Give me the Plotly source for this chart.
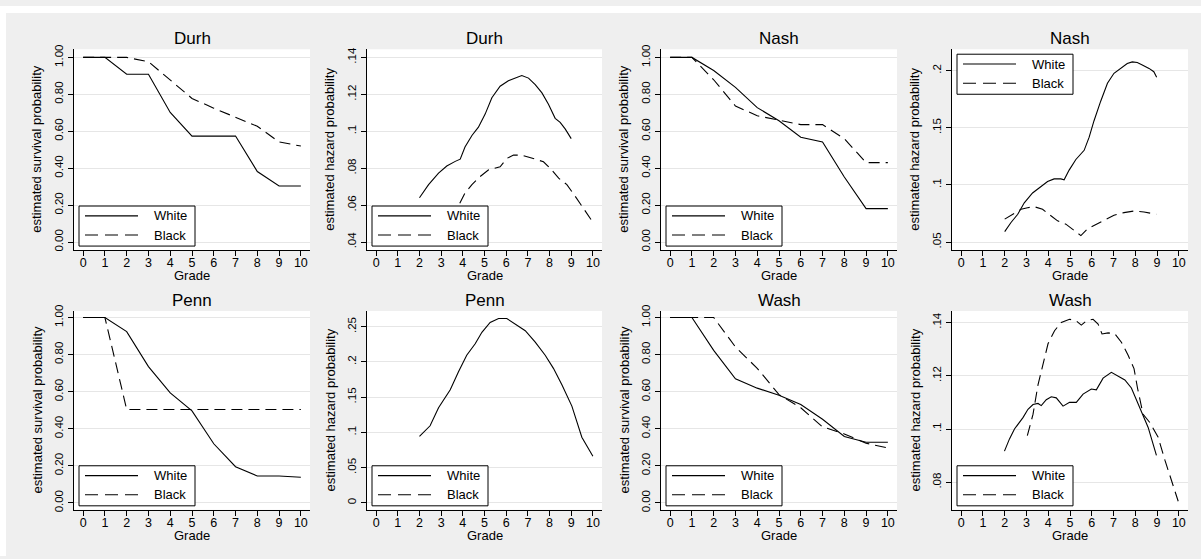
import plotly.graph_objects as go

W, H = 1201, 559
FONT = "Liberation Sans, Arial, sans-serif"

# ---------------- data ----------------
grades = list(range(11))

durh_surv_white = [1.0, 1.0, 0.909, 0.909, 0.702, 0.574, 0.574, 0.574, 0.382, 0.304, 0.304]
durh_surv_black = [1.0, 1.0, 1.0, 0.977, 0.879, 0.778, 0.725, 0.675, 0.627, 0.542, 0.520]
nash_surv_white = [1.0, 1.0, 0.929, 0.838, 0.728, 0.657, 0.568, 0.542, 0.352, 0.181, 0.181]
nash_surv_black = [1.0, 1.0, 0.879, 0.737, 0.684, 0.661, 0.636, 0.636, 0.560, 0.430, 0.430]
penn_surv_white = [1.0, 1.0, 0.924, 0.735, 0.593, 0.496, 0.319, 0.195, 0.145, 0.145, 0.138]
penn_surv_black = [1.0, 1.0, 0.504, 0.504, 0.504, 0.504, 0.504, 0.504, 0.504, 0.504, 0.504]
wash_surv_white = [1.0, 1.0, 0.823, 0.669, 0.619, 0.581, 0.531, 0.451, 0.358, 0.327, 0.327]
wash_surv_black = [1.0, 1.0, 1.0, 0.841, 0.726, 0.584, 0.513, 0.410, 0.372, 0.322, 0.296]

durh_haz_white_x = [2.0, 2.42, 2.88, 3.26, 3.65, 3.88, 4.1, 4.42, 4.72, 5.03, 5.34, 5.72,
                    6.1, 6.42, 6.72, 7.03, 7.34, 7.65, 7.95, 8.26, 8.49, 8.72, 9.0]
durh_haz_white_y = [0.064, 0.0711, 0.0773, 0.0812, 0.0837, 0.0849, 0.0915, 0.0977, 0.1022,
                    0.1093, 0.1182, 0.1244, 0.1274, 0.1288, 0.1302, 0.1288, 0.1253, 0.1208,
                    0.1146, 0.107, 0.1048, 0.1013, 0.096]
durh_haz_black_x = [3.86, 4.1, 4.42, 4.8, 5.19, 5.72, 6.03, 6.34, 6.72, 7.03, 7.34, 7.72,
                    8.03, 8.42, 8.8, 9.18, 9.65, 10.0]
durh_haz_black_y = [0.061, 0.0666, 0.0711, 0.0755, 0.0791, 0.0808, 0.0853, 0.0871, 0.0871,
                    0.0858, 0.0849, 0.0835, 0.080, 0.0746, 0.0711, 0.0649, 0.0569, 0.0507]

nash_haz_white_x = [2.0, 2.29, 2.6, 2.9, 3.28, 3.66, 3.97, 4.27, 4.58, 4.73, 4.96, 5.27, 5.65,
                    5.88, 6.1, 6.41, 6.72, 7.02, 7.33, 7.63, 7.86, 8.09, 8.32, 8.63, 8.85, 8.98]
nash_haz_white_y = [0.0592, 0.0672, 0.0744, 0.0844, 0.093, 0.0988, 0.103, 0.1053, 0.1053,
                    0.1045, 0.113, 0.1223, 0.1303, 0.1418, 0.156, 0.1733, 0.189, 0.1977,
                    0.202, 0.2063, 0.2077, 0.2071, 0.2049, 0.202, 0.1991, 0.1942]
nash_haz_black_x = [2.0, 2.35, 2.75, 3.05, 3.36, 3.74, 4.12, 4.43, 4.81, 5.27, 5.5, 5.8, 6.1,
                    6.56, 7.02, 7.48, 7.94, 8.4, 8.96]
nash_haz_black_y = [0.0701, 0.0744, 0.0787, 0.0801, 0.081, 0.0787, 0.0729, 0.0686, 0.0657,
                    0.0586, 0.0557, 0.0615, 0.0643, 0.0686, 0.0735, 0.0758, 0.0772, 0.0764,
                    0.0744]

penn_haz_white_x = [2.0, 2.49, 2.88, 3.42, 3.8, 4.18, 4.57, 4.88, 5.26, 5.65, 6.03, 6.42,
                    6.88, 7.34, 7.8, 8.18, 8.57, 9.03, 9.49, 10.0]
penn_haz_white_y = [0.0945, 0.1094, 0.135, 0.1606, 0.1862, 0.2095, 0.2258, 0.2421, 0.2561,
                    0.2616, 0.2616, 0.2537, 0.2444, 0.2281, 0.2095, 0.1909, 0.1676, 0.1373,
                    0.0931, 0.0661]
penn_haz_black_x = []
penn_haz_black_y = []

wash_haz_white_x = [1.99, 2.22, 2.45, 2.84, 3.07, 3.3, 3.53, 3.68, 3.91, 4.14, 4.37, 4.68,
                    4.98, 5.29, 5.6, 5.98, 6.21, 6.52, 6.9, 7.21, 7.52, 7.82, 8.2, 8.59, 8.97]
wash_haz_white_y = [0.0917, 0.0963, 0.100, 0.1043, 0.1074, 0.1092, 0.1096, 0.1088, 0.111,
                    0.1121, 0.1117, 0.1086, 0.110, 0.110, 0.1131, 0.115, 0.1147, 0.1191,
                    0.1213, 0.1197, 0.1184, 0.1154, 0.108, 0.1006, 0.0901]
wash_haz_black_x = [3.04, 3.3, 3.53, 3.76, 3.99, 4.29, 4.6, 4.98, 5.29, 5.52, 5.75, 6.06, 6.29,
                    6.47, 6.75, 7.06, 7.36, 7.67, 7.94, 8.1, 8.36, 8.67, 9.05, 9.36, 9.66, 9.97]
wash_haz_black_y = [0.0975, 0.1055, 0.1166, 0.124, 0.132, 0.1369, 0.140, 0.1412, 0.1406,
                    0.139, 0.1406, 0.1412, 0.1394, 0.1357, 0.1361, 0.1357, 0.1326, 0.1277,
                    0.1227, 0.1154, 0.1055, 0.1024, 0.0969, 0.0883, 0.0809, 0.0729]

surv_ticks = [0.0, 0.2, 0.4, 0.6, 0.8, 1.0]
surv_ticktext = ["0.00", "0.20", "0.40", "0.60", "0.80", "1.00"]
durh_haz_ticks = [0.04, 0.06, 0.08, 0.10, 0.12, 0.14]
durh_haz_ticktext = [".04", ".06", ".08", ".1", ".12", ".14"]
nash_haz_ticks = [0.05, 0.10, 0.15, 0.20]
nash_haz_ticktext = [".05", ".1", ".15", ".2"]
penn_haz_ticks = [0.0, 0.05, 0.10, 0.15, 0.20, 0.25]
penn_haz_ticktext = ["0", ".05", ".1", ".15", ".2", ".25"]
wash_haz_ticks = [0.08, 0.10, 0.12, 0.14]
wash_haz_ticktext = [".08", ".1", ".12", ".14"]

series_names = ["White", "Black"]
surv_label = "estimated survival probability"
haz_label = "estimated hazard probability"
x_label = "Grade"

# ---------------- panel configuration ----------------
panels = [
    dict(title="Durh", ylab=surv_label, wx=grades, wy=durh_surv_white, bx=grades, by=durh_surv_black,
         yr=[-0.043, 1.044], tv=surv_ticks, tt=surv_ticktext, leg="bottom"),
    dict(title="Durh", ylab=haz_label, wx=durh_haz_white_x, wy=durh_haz_white_y,
         bx=durh_haz_black_x, by=durh_haz_black_y,
         yr=[0.0357, 0.1444], tv=durh_haz_ticks, tt=durh_haz_ticktext, leg="bottom"),
    dict(title="Nash", ylab=surv_label, wx=grades, wy=nash_surv_white, bx=grades, by=nash_surv_black,
         yr=[-0.043, 1.044], tv=surv_ticks, tt=surv_ticktext, leg="bottom"),
    dict(title="Nash", ylab=haz_label, wx=nash_haz_white_x, wy=nash_haz_white_y,
         bx=nash_haz_black_x, by=nash_haz_black_y,
         yr=[0.0431, 0.2187], tv=nash_haz_ticks, tt=nash_haz_ticktext, leg="top"),
    dict(title="Penn", ylab=surv_label, wx=grades, wy=penn_surv_white, bx=grades, by=penn_surv_black,
         yr=[-0.037, 1.035], tv=surv_ticks, tt=surv_ticktext, leg="bottom"),
    dict(title="Penn", ylab=haz_label, wx=penn_haz_white_x, wy=penn_haz_white_y,
         bx=penn_haz_black_x, by=penn_haz_black_y,
         yr=[-0.0098, 0.2723], tv=penn_haz_ticks, tt=penn_haz_ticktext, leg="bottom"),
    dict(title="Wash", ylab=surv_label, wx=grades, wy=wash_surv_white, bx=grades, by=wash_surv_black,
         yr=[-0.037, 1.035], tv=surv_ticks, tt=surv_ticktext, leg="bottom"),
    dict(title="Wash", ylab=haz_label, wx=wash_haz_white_x, wy=wash_haz_white_y,
         bx=wash_haz_black_x, by=wash_haz_black_y,
         yr=[0.0697, 0.1443], tv=wash_haz_ticks, tt=wash_haz_ticktext, leg="bottom"),
]

# ---------------- layout geometry (pixels) ----------------
col_left = [74, 367, 661, 952]
col_right = [310, 602, 897, 1188]
row_top = [44, 310]
row_bottom = [248, 512]
DASH = "11px,6px"
LEG_DASH = "13px,7px"
BG = "#efefef"
GRID = "#e6e6e6"


def px(x):
    return x / W


def py(y):
    return 1 - y / H


fig = go.Figure()
layout = dict(
    width=W, height=H,
    margin=dict(l=0, r=0, t=0, b=0),
    paper_bgcolor=BG, plot_bgcolor="white",
    showlegend=False,
    font=dict(family=FONT, color="black"),
)
annotations = []
shapes = [
    dict(type="rect", xref="paper", yref="paper", x0=0, x1=1, y0=py(7), y1=1,
         fillcolor="white", line=dict(width=0), layer="below"),
    dict(type="rect", xref="paper", yref="paper", x0=0, x1=px(6), y0=0, y1=1,
         fillcolor="white", line=dict(width=0), layer="below"),
]

for i, p in enumerate(panels):
    r, c = divmod(i, 4)
    L, R, T, B = col_left[c], col_right[c], row_top[r], row_bottom[r]
    sfx = "" if i == 0 else str(i + 1)
    xa, ya = "x" + sfx, "y" + sfx

    fig.add_trace(go.Scatter(x=p["wx"], y=p["wy"], mode="lines", name=series_names[0],
                             line=dict(color="black", width=1.1), xaxis=xa, yaxis=ya))
    if len(p["bx"]):
        fig.add_trace(go.Scatter(x=p["bx"], y=p["by"], mode="lines", name=series_names[1],
                                 line=dict(color="black", width=1.1, dash=DASH), xaxis=xa, yaxis=ya))

    layout["xaxis" + sfx] = dict(
        domain=[px(L), px(R)], anchor=ya, range=[-0.42, 10.42],
        tickmode="array", tickvals=grades, ticktext=[str(g) for g in grades],
        ticks="outside", ticklen=5, tickcolor="black", tickwidth=1,
        ticklabelstandoff=-4,
        showline=True, linecolor="black", linewidth=1,
        showgrid=False, zeroline=False, fixedrange=True,
        tickfont=dict(family=FONT, size=12.5, color="black"),
    )
    layout["yaxis" + sfx] = dict(
        domain=[py(B), py(T)], anchor=xa, range=p["yr"],
        tickmode="array", tickvals=p["tv"], ticktext=p["tt"], tickangle=-90,
        ticks="outside", ticklen=5, tickcolor="black", tickwidth=1,
        showline=True, linecolor="black", linewidth=1,
        showgrid=True, gridcolor=GRID, gridwidth=1.3, zeroline=False, fixedrange=True,
        tickfont=dict(family=FONT, size=11.5, color="black"),
    )

    cx = (L + R) / 2
    annotations.append(dict(text=p["title"], xref="paper", yref="paper", x=px(cx), y=py(T - 11),
                            xanchor="center", yanchor="middle", showarrow=False,
                            font=dict(family=FONT, size=17, color="black")))
    annotations.append(dict(text=x_label, xref="paper", yref="paper", x=px(cx), y=py(B + 26),
                            xanchor="center", yanchor="middle", showarrow=False,
                            font=dict(family=FONT, size=13, color="black")))
    annotations.append(dict(text=p["ylab"], xref="paper", yref="paper", x=px(L - 37), y=py((T + B) / 2),
                            xanchor="center", yanchor="middle", textangle=-90, showarrow=False,
                            font=dict(family=FONT, size=13, color="black")))

    # legend box
    bl = L + 5
    if p["leg"] == "top":
        bt = T + 5
    else:
        bt = B - 44.7
    bb = bt + 40.7
    shapes.append(dict(type="rect", xref="paper", yref="paper", x0=px(bl), x1=px(bl + 116),
                       y0=py(bb), y1=py(bt), fillcolor="white", line=dict(color="black", width=1)))
    for k, name in enumerate(series_names):
        ly = bt + 10 + k * 19.5
        shapes.append(dict(type="line", xref="paper", yref="paper", x0=px(bl + 6), x1=px(bl + 59),
                           y0=py(ly), y1=py(ly),
                           line=dict(color="black", width=1.1, dash=("solid" if k == 0 else LEG_DASH))))
        annotations.append(dict(text=name, xref="paper", yref="paper", x=px(bl + 73.4), y=py(ly),
                                xanchor="left", yanchor="middle", showarrow=False,
                                font=dict(family=FONT, size=13, color="black")))

layout["annotations"] = annotations
layout["shapes"] = shapes
fig.update_layout(**layout)

fig.write_html("out.html", config={"displayModeBar": False},
               post_script="document.body.style.margin='0';")
